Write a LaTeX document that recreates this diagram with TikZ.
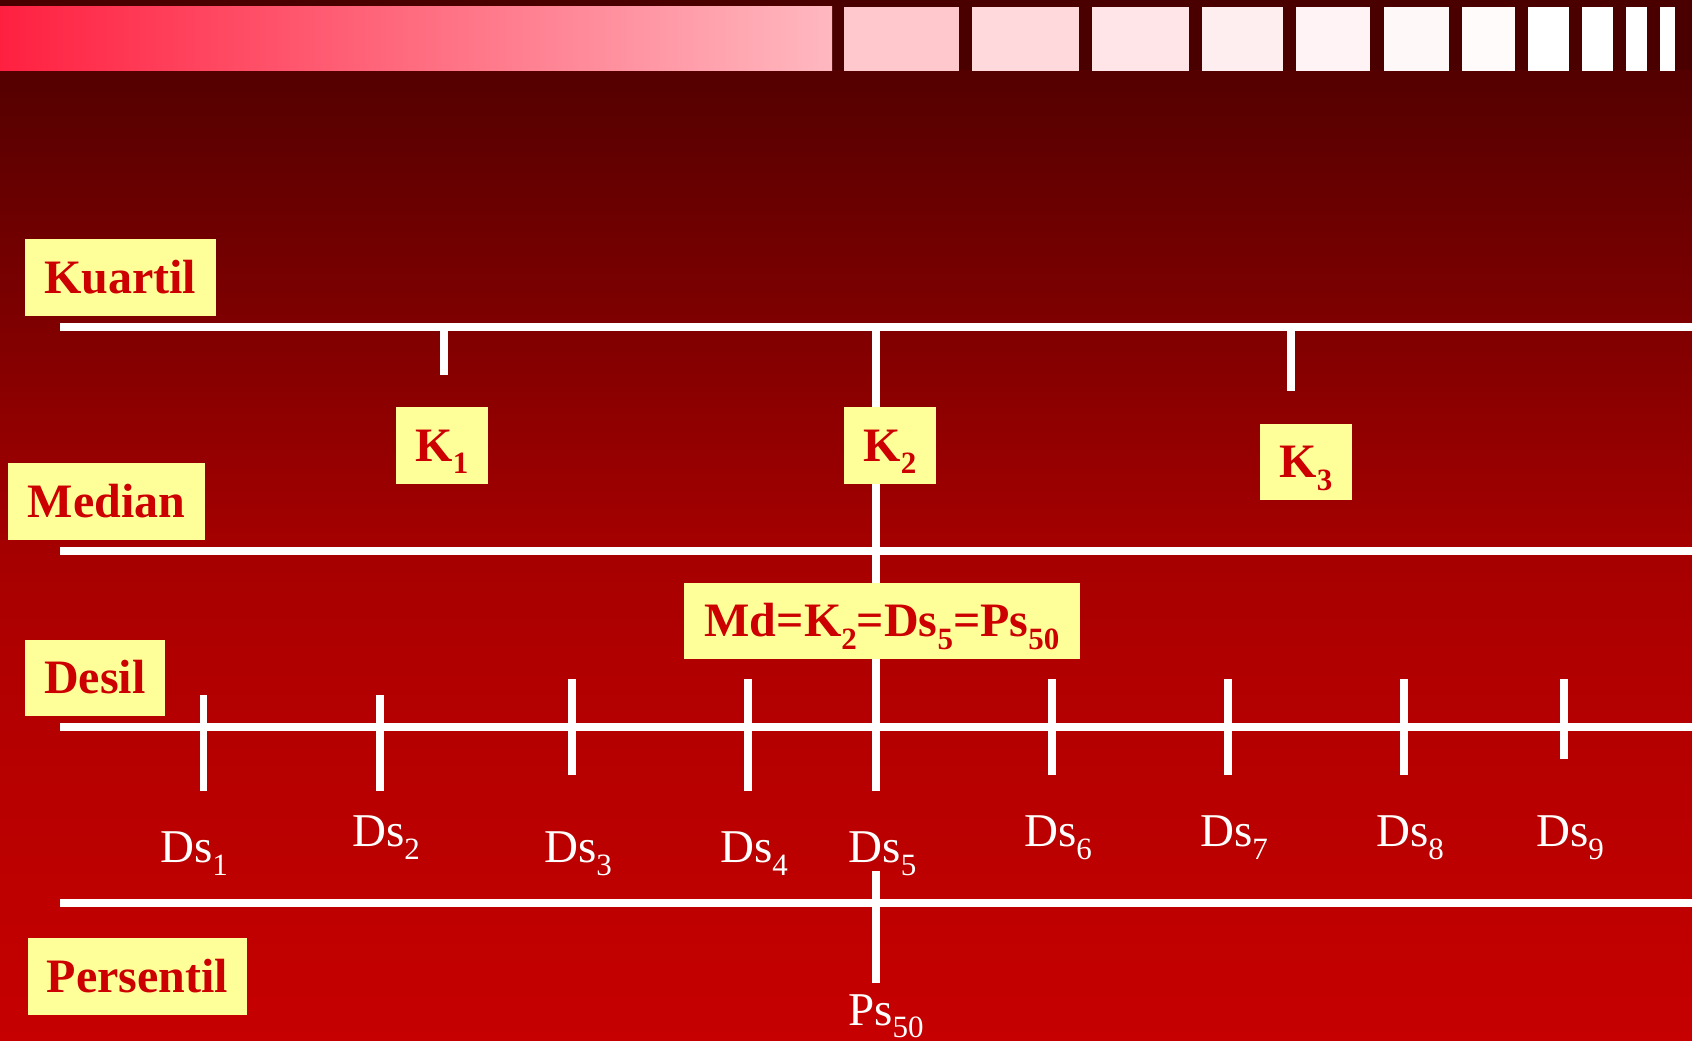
\documentclass[tikz,border=0pt]{standalone}
\usepackage{fontspec}
\setmainfont{Liberation Serif}
\definecolor{boxy}{HTML}{FFFF99}
\definecolor{boxred}{HTML}{CC0000}
\definecolor{bandc}{HTML}{4B0000}
\definecolor{bgA}{HTML}{540000}
\definecolor{bgB}{HTML}{A40000}
\definecolor{bgC}{HTML}{B00000}
\definecolor{bgD}{HTML}{C60000}
\definecolor{barL}{HTML}{FF2040}
\definecolor{barR}{HTML}{FFB8C0}
\newcommand\lblfont{\fontsize{48}{56}\selectfont\bfseries}
\newcommand\dsfont{\fontsize{47}{56}\selectfont}
\newcommand\subn[1]{\raisebox{-12.5pt}{\fontsize{31}{31}\selectfont #1}}
\begin{document}
\begin{tikzpicture}[x=1pt,y=-1pt,
  wline/.style={draw=white,line width=8pt},
  tickline/.style={draw=white,line width=7.5pt},
  lbox/.style={fill=boxy,text=boxred,font=\lblfont,inner sep=0pt,text height=31.8pt,text depth=0pt},
  dslab/.style={text=white,font=\dsfont,inner sep=0pt,anchor=base west}]
\useasboundingbox (0,0) rectangle (1692,1041);
% background
\fill[bandc] (0,0) rectangle (1692,72);
\shade[top color=bgA,bottom color=bgB] (0,71) rectangle (1692,541);
\shade[top color=bgB,bottom color=bgC] (0,540) rectangle (1692,651);
\shade[top color=bgC,bottom color=bgD] (0,650) rectangle (1692,1041);
% top bar
\shade[left color=barL,right color=barR] (0,6.7) rectangle (832,70.7);
\foreach \a/\b/\c in {844/959/FFC8CC,972/1079/FFD9DC,1092/1189/FFE5E8,1202/1283/FFEEF0,1296/1370/FFF3F5,1384/1449/FFF8F9,1462/1515/FFFBFB,1528/1569/FFFFFF,1582/1613/FFFFFF,1626/1647/FFFFFF,1660/1675/FFFFFF}{
  \definecolor{sq}{HTML}{\c}
  \fill[sq] (\a,6.7) rectangle (\b,70.7);
}
% axis lines
\coordinate (kL) at (60,327);   \coordinate (kR) at (1692,327);
\coordinate (mL) at (60,551);   \coordinate (mR) at (1692,551);
\coordinate (dL) at (60,726.7); \coordinate (dR) at (1692,726.7);
\coordinate (pL) at (60,903);   \coordinate (pR) at (1692,903);
\draw[wline] (kL) -- (kR);
\draw[wline] (mL) -- (mR);
\draw[wline] (dL) -- (dR);
\draw[wline] (pL) -- (pR);
% quartile ticks
\coordinate (k1a) at (444,327); \coordinate (k1b) at (444,375);
\coordinate (k3a) at (1291,327); \coordinate (k3b) at (1291,391);
\coordinate (k2a) at (876,327); \coordinate (k2b) at (876,790.7);
\draw[tickline] (k1a) -- (k1b);
\draw[tickline] (k3a) -- (k3b);
\draw[tickline] (k2a) -- (k2b);
% decile ticks
\foreach \n/\x/\t/\u in {1/203.5/695/790.7,2/380/695/790.7,3/572/679/774.7,4/748/679/790.7,6/1052/679/774.7,7/1228/679/774.7,8/1404/679/774.7,9/1564/679/758.7}{
  \coordinate (ds\n a) at (\x,\t);
  \coordinate (ds\n b) at (\x,\u);
  \draw[tickline] (ds\n a) -- (ds\n b);
}
% percentile tick
\coordinate (psa) at (876,871); \coordinate (psb) at (876,982.7);
\draw[tickline] (psa) -- (psb);
% label boxes
\node[lbox,minimum width=191pt,minimum height=77pt] (kuartil) at (120,277.5) {Kuartil};
\node[lbox,minimum width=197pt,minimum height=77pt] (median) at (106.5,501.5) {Median};
\node[lbox,minimum width=140pt,minimum height=76pt] (desil) at (95,678) {Desil};
\node[lbox,minimum width=219pt,minimum height=77pt] (persentil) at (137.5,976.5) {Persentil};
\node[lbox,minimum width=92pt,minimum height=77pt] (K1) at (442,445.5) {K\subn{1}};
\node[lbox,minimum width=92pt,minimum height=77pt] (K2) at (890,445.5) {K\subn{2}};
\node[lbox,minimum width=92pt,minimum height=76pt] (K3) at (1306,462) {K\subn{3}};
\node[lbox,minimum width=396pt,minimum height=76pt] (md) at (882,621) {Md=K\subn{2}=Ds\subn{5}=Ps\subn{50}};
% decile labels
\node[dslab] (l1) at (160,862.7) {Ds\subn{1}};
\node[dslab] (l2) at (352,846.7) {Ds\subn{2}};
\node[dslab] (l3) at (544,862.7) {Ds\subn{3}};
\node[dslab] (l4) at (720,862.7) {Ds\subn{4}};
\node[dslab] (l5) at (848.5,862.7) {Ds\subn{5}};
\node[dslab] (l6) at (1024,846.7) {Ds\subn{6}};
\node[dslab] (l7) at (1200,846.7) {Ds\subn{7}};
\node[dslab] (l8) at (1376,846.7) {Ds\subn{8}};
\node[dslab] (l9) at (1536,846.7) {Ds\subn{9}};
\node[dslab] (ps) at (848,1025) {Ps\subn{50}};
\end{tikzpicture}
\end{document}
